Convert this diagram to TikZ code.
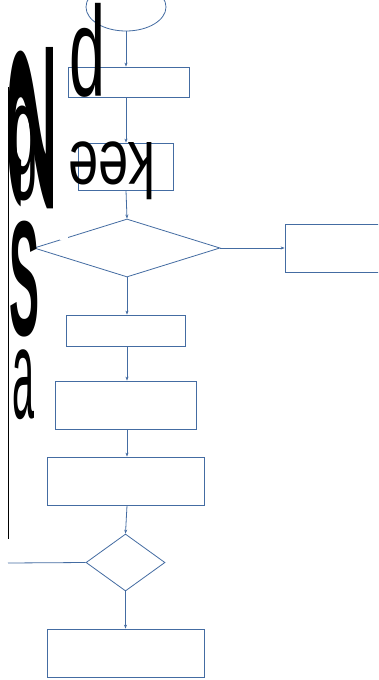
\documentclass[tikz,border=0pt]{standalone}
\usepackage{fontspec}
\setmainfont{Liberation Sans}
\usetikzlibrary{shapes.geometric,arrows.meta}
\definecolor{flowblue}{RGB}{68,108,162}
\tikzset{
  every picture/.style={x=1pt,y=-1pt},
  box/.style={draw=flowblue,line width=0.8pt,rectangle,inner sep=0pt},
  decide/.style={draw=flowblue,line width=0.8pt,diamond,inner sep=0pt},
  term/.style={draw=flowblue,line width=0.8pt,ellipse,inner sep=0pt},
  flow/.style={draw=flowblue,line width=0.8pt,-{Stealth[length=4pt,width=3pt]}},
  plain/.style={draw=flowblue,line width=0.8pt},
  glyph/.style={inner sep=0pt,outer sep=0pt,text=black}
}
\begin{document}
\begin{tikzpicture}
\useasboundingbox (0,0) rectangle (378,680);
\clip (0,0) rectangle (378,680);
\fill[white] (0,0) rectangle (378,680);

% flowchart shapes
\node[term,minimum width=80pt,minimum height=48pt] (start) at (126,7) {};
\node[box,minimum width=121pt,minimum height=30pt] (r1) at (128.5,82) {};
\node[box,minimum width=95pt,minimum height=47pt] (r2) at (125.5,166.5) {};
\node[decide,minimum width=186pt,minimum height=58pt] (d1) at (127,248) {};
\node[box,minimum width=95pt,minimum height=48pt] (side) at (332.5,248) {};
\node[box,minimum width=119pt,minimum height=31pt] (r3) at (125.5,330.5) {};
\node[box,minimum width=141pt,minimum height=48pt] (r4) at (125.5,405) {};
\node[box,minimum width=157pt,minimum height=48pt] (r5) at (125.5,481) {};
\node[decide,minimum width=79pt,minimum height=57pt] (d2) at (125.5,562.5) {};
\node[box,minimum width=157pt,minimum height=48pt] (r6) at (125.5,653) {};
\coordinate (loopend) at (8,563);

% connectors
\draw[flow] (start.south) -- (start.south |- r1.north);
\draw[flow] (start.south |- r1.south) -- (start.south |- r2.north);
\draw[flow] (start.south |- r2.south) -- (d1.north);
\draw[flow] (d1.east) -- (side.west);
\draw[flow] (d1.south) -- (d1.south |- r3.north);
\draw[flow] (d1.south |- r3.south) -- (d1.south |- r4.north);
\draw[flow] (d1.south |- r4.south) -- (d1.south |- r5.north);
\draw[flow] (d1.south |- r5.south) -- (d2.north);
\draw[flow] (d2.south) -- (r6.north);
\draw[plain] (d2.west) -- (loopend);

% white patch breaking the upper-left edge of the first decision
\fill[white] (60,234) rectangle (68,240);

% rotated lettering over the chart
\node[glyph,rotate=180] (tp) at (87,50)
  {\resizebox*{36pt}{94pt}{p}};
\node[glyph,rotate=180] (tk) at (111.5,171)
  {\resizebox*{87pt}{58pt}{kee}};

% stretched lettering in the left margin
\draw[black,line width=1.2pt] (8.5,87) -- (8.5,539);
\node[glyph,anchor=north west] (mtop) at (8,34) {%
  \rlap{\hspace{2pt}\smash{\raisebox{46pt}{\resizebox*{28pt}{95pt}{g}}}}%
  \rotatebox{90}{\resizebox*{186pt}{45pt}{\bfseries 2}}};
\node[glyph,anchor=north west] (ms) at (9,221)
  {\resizebox*{30pt}{116pt}{\bfseries S}};
\node[glyph,anchor=north west] (ma) at (12,350)
  {\resizebox*{22pt}{70pt}{a}};
\end{tikzpicture}
\end{document}
